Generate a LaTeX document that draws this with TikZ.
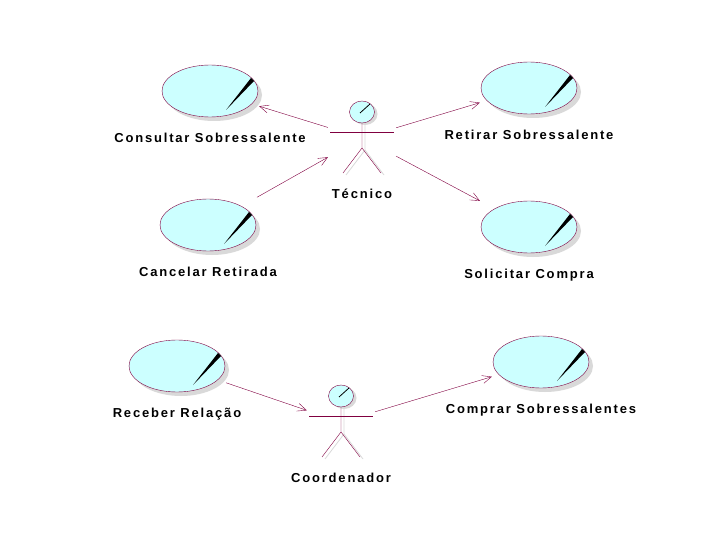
\documentclass[tikz,border=0pt]{standalone}
\usepackage{fontspec}
\setmainfont{Liberation Sans}
\newfontfamily\rosefont[LetterSpace=14]{Liberation Sans}
\usetikzlibrary{arrows.meta,positioning}
\definecolor{rosered}{RGB}{128,0,64}
\definecolor{rosecyan}{RGB}{204,255,255}
\tikzset{
  usecase/.style={minimum width=96pt, minimum height=54pt, inner sep=0pt},
  actorbox/.style={minimum width=66pt, minimum height=80pt, inner sep=0pt},
  uclabel/.style={font=\rosefont\bfseries\fontsize{13}{15}\selectfont, inner sep=0pt, anchor=base},
  assoc/.style={draw=rosered, -{Straight Barb[length=9pt,width=8pt]}, shorten >=1pt, shorten <=1pt},
}

\begin{document}
\begin{tikzpicture}[x=1pt, y=-1pt]

    \useasboundingbox (0,0) rectangle (720,540);

    %%%%%%%%%%%%%%%%%%
    %%%%% Actors %%%%%
    %%%%%%%%%%%%%%%%%%
    \node[actorbox] (tecnico) at (362,138) {};
    \node[actorbox] (coordenador) at (341,422) {};

    % Draw the stick figures with their shadows
    \foreach \ac in {tecnico,coordenador}{
      \draw[gray!30, line width=0.8pt] ([shift={(3,-15)}]\ac.center) -- ([shift={(3,12)}]\ac.center)
        -- ([shift={(-16,37)}]\ac.center);
      \draw[gray!30, line width=0.8pt] ([shift={(3,12)}]\ac.center) -- ([shift={(22,37)}]\ac.center);
      \fill[gray!30] ([shift={(3,-24)}]\ac.center) ellipse (12.5pt and 11pt);
      \draw[rosered] ([shift={(-32,-6)}]\ac.center) -- ([shift={(32,-6)}]\ac.center);
      \draw[rosered] ([shift={(0,-15)}]\ac.center) -- ([shift={(0,10)}]\ac.center)
        -- ([shift={(-19,35)}]\ac.center);
      \draw[rosered] ([shift={(0,10)}]\ac.center) -- ([shift={(19,35)}]\ac.center);
      \filldraw[draw=rosered, fill=rosecyan] ([shift={(0,-26)}]\ac.center) ellipse (12.5pt and 11pt);
      \draw[line width=0.8pt] ([shift={(-2,-25)}]\ac.center) -- ([shift={(8,-34)}]\ac.center);
    }

    \node[uclabel] at ([yshift=-20pt]tecnico.south) {Técnico};
    \node[uclabel] at ([yshift=-20pt]coordenador.south) {Coordenador};

    %%%%%%%%%%%%%%%%%%%%%
    %%%%% Use cases %%%%%
    %%%%%%%%%%%%%%%%%%%%%
    \node[usecase] (consultar) at (210,91) {};
    \node[usecase] (retirar) at (529,88) {};
    \node[usecase] (cancelar) at (208,225) {};
    \node[usecase] (solicitar) at (529,227) {};
    \node[usecase] (receber) at (177,366) {};
    \node[usecase] (comprar) at (541,362) {};

    % Draw the ellipses, shadow first
    \foreach \uc in {consultar,retirar,cancelar,solicitar,receber,comprar}{
      \fill[gray!30] ([shift={(4,4)}]\uc.center) ellipse (48pt and 26pt);
      \filldraw[draw=rosered, fill=rosecyan] (\uc.center) ellipse (48pt and 26pt);
      \fill ([shift={(41,-13)}]\uc.center) -- ([shift={(44,-10)}]\uc.center)
        -- ([shift={(16,19)}]\uc.center) -- cycle;
    }

    \node[uclabel] at ([yshift=-24pt]consultar.south) {Consultar Sobressalente};
    \node[uclabel] at ([yshift=-24pt]retirar.south) {Retirar Sobressalente};
    \node[uclabel] at ([yshift=-24pt]cancelar.south) {Cancelar Retirada};
    \node[uclabel] at ([yshift=-24pt]solicitar.south) {Solicitar Compra};
    \node[uclabel] at ([yshift=-24pt]receber.south) {Receber Relação};
    \node[uclabel] at ([yshift=-24pt]comprar.south) {Comprar Sobressalentes};

    %%%%%%%%%%%%%%%%%%%%%%%%
    %%%%% Associations %%%%%
    %%%%%%%%%%%%%%%%%%%%%%%%
    \draw[assoc] (tecnico) -- (consultar);
    \draw[assoc] (tecnico) -- (retirar);
    \draw[assoc] (tecnico) -- (solicitar);
    \draw[assoc] (cancelar) -- (tecnico);
    \draw[assoc] (receber) -- (coordenador);
    \draw[assoc] (coordenador) -- (comprar);

\end{tikzpicture}
\end{document}
